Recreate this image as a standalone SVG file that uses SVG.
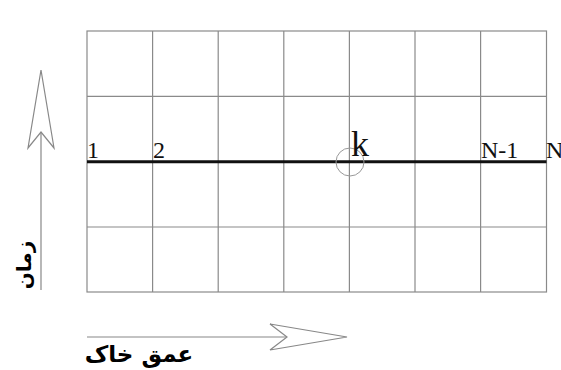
<svg xmlns="http://www.w3.org/2000/svg" width="561" height="370" viewBox="0 0 561 370">
<style>
.g{stroke:#8a8a8a;stroke-width:1.2;fill:none}
.num{font-family:"Liberation Serif",serif;font-size:24px;fill:#111}
.fa{font-family:"DejaVu Sans",sans-serif;font-weight:bold;fill:#000}
.ax{stroke:#888;stroke-width:1.2;fill:none}
.ah{stroke:#888;stroke-width:1.2;fill:#fff}
</style>
<rect width="561" height="370" fill="#fff"/>
<g id="grid">
<rect class="g" x="87" y="31" width="459.5" height="261"/>
<line class="g" x1="152.6" y1="31" x2="152.6" y2="292"/>
<line class="g" x1="218.2" y1="31" x2="218.2" y2="292"/>
<line class="g" x1="283.8" y1="31" x2="283.8" y2="292"/>
<line class="g" x1="349.4" y1="31" x2="349.4" y2="292"/>
<line class="g" x1="415" y1="31" x2="415" y2="292"/>
<line class="g" x1="480.6" y1="31" x2="480.6" y2="292"/>
<line class="g" x1="87" y1="96.3" x2="546.5" y2="96.3"/>
<line class="g" x1="87" y1="227" x2="546.5" y2="227"/>
</g>
<g id="connectors">
<line x1="87" y1="161.8" x2="546.5" y2="161.8" stroke="#111" stroke-width="3"/>
<circle cx="350" cy="162" r="14" fill="none" stroke="#999" stroke-width="1"/>
<line class="ax" x1="41" y1="290" x2="41" y2="132"/>
<path class="ah" d="M41,70 L54,148 L41,132 L28,148 Z"/>
<line class="ax" x1="87" y1="337" x2="287" y2="337"/>
<path class="ah" d="M347,337 L270,324 L287,337 L270,350 Z"/>
</g>
<g id="labels">
<text class="num" x="87" y="157.5">1</text>
<text class="num" x="153" y="157.5">2</text>
<text class="num" x="351" y="156" style="font-size:36px">k</text>
<text class="num" x="481" y="157.5">N-1</text>
<text class="num" x="546" y="157.5">N</text>
<text class="fa" style="font-size:20px" transform="translate(31,265) rotate(-90)" text-anchor="middle" direction="rtl">زمان</text>
<text class="fa" style="font-size:23px" x="139" y="362" text-anchor="middle" direction="rtl">عمق خاک</text>
</g>
</svg>
